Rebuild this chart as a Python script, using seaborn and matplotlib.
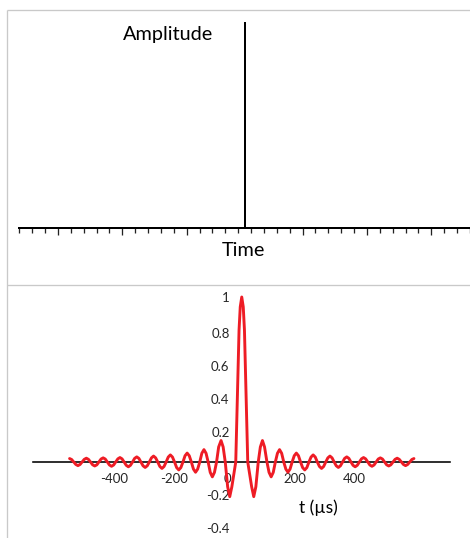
import numpy as np
import pandas as pd
import matplotlib
matplotlib.use("Agg")
import matplotlib.pyplot as plt
import matplotlib.transforms as mtransforms
from matplotlib.lines import Line2D
import seaborn as sns

# ---------------- data ----------------
# main lobe (t in microseconds)
main_t = [11, 15, 19, 24, 29, 33, 37]
main_amp = [0.50, 0.80, 0.94, 1.0, 0.94, 0.80, 0.50]
# side-lobe extremes, left to right
lobe_t = [-550, -522, -494, -466, -438, -410, -382, -354, -326, -298,
          -270, -242, -214, -186, -158, -130, -102, -74, -45, -16,
          64, 93, 122, 150, 178, 206, 234, 262, 290, 318,
          346, 374, 402, 430, 458, 486, 514, 542, 570, 598]
lobe_amp = [0.021, -0.022, 0.023, -0.024, 0.025, -0.026, 0.027, -0.029, 0.031, -0.033,
            0.036, -0.039, 0.043, -0.048, 0.054, -0.062, 0.075, -0.090, 0.130, -0.210,
            -0.210, 0.130, -0.090, 0.075, -0.062, 0.054, -0.048, 0.043, -0.039, 0.036,
            -0.033, 0.031, -0.029, 0.027, -0.026, 0.025, -0.024, 0.023, -0.022, 0.021]
# shoulders of each side lobe (half way between extreme and zero)
shoulder_t = [-543, -529, -515, -501, -487, -473, -459, -445, -431, -417,
              -403, -389, -375, -361, -347, -333, -319, -305, -291, -277,
              -263, -249, -235, -221, -207, -193, -179, -165, -151, -137,
              -123, -109, -95, -81, -67, -53, -38, -23, -9,
              57, 71, 86, 100, 115, 129, 143, 157, 171, 185,
              199, 213, 227, 241, 255, 269, 283, 297, 311, 325,
              339, 353, 367, 381, 395, 409, 423, 437, 451, 465,
              479, 493, 507, 521, 535, 549, 563, 577, 591]
shoulder_amp = [0.015, -0.015, -0.015, 0.016, 0.016, -0.017, -0.017, 0.018, 0.018, -0.018,
                -0.018, 0.019, 0.019, -0.020, -0.020, 0.022, 0.022, -0.023, -0.023, 0.025,
                0.025, -0.027, -0.027, 0.030, 0.030, -0.034, -0.034, 0.038, 0.038, -0.043,
                -0.043, 0.053, 0.053, -0.063, -0.063, 0.091, 0.091, -0.150, -0.150,
                -0.150, -0.150, 0.091, 0.091, -0.063, -0.063, 0.053, 0.053, -0.043, -0.043,
                0.038, 0.038, -0.034, -0.034, 0.030, 0.030, -0.027, -0.027, 0.025, 0.025,
                -0.023, -0.023, 0.022, 0.022, -0.020, -0.020, 0.019, 0.019, -0.018, -0.018,
                0.018, 0.018, -0.017, -0.017, 0.016, 0.016, -0.015, -0.015, 0.015]
# zero crossings
zero_t = [-536, -508, -480, -452, -424, -396, -368, -340, -312, -284,
          -256, -228, -200, -172, -144, -116, -88, -60, -31, 4,
          44, 79, 108, 136, 164, 192, 220, 248, 276, 304,
          332, 360, 388, 416, 444, 472, 500, 528, 556, 584]
zero_amp = [0.0] * len(zero_t)

x_tick_values = [-400, -200, 0, 200, 400]
x_tick_labels = ["-400", "-200", "0", "200", "400"]
y_tick_values = [1.0, 0.8, 0.6, 0.4, 0.2, -0.2, -0.4]
y_tick_labels = ["1", "0.8", "0.6", "0.4", "0.2", "-0.2", "-0.4"]
x_minor_ticks = [-400, -360, -320, -280, -240, -200, -160, -120, -80, -40,
                 40, 80, 120, 160, 200, 240, 280, 320, 360, 400]

top_major = [-14.5, -9.5, -4.5, 4.5, 9.5, 14.5]
top_minor = [-17.5, -16.5, -15.5, -13.5, -12.5, -11.5, -10.5, -8.5, -7.5, -6.5,
             -5.5, -3.5, -2.5, -1.5, -0.5, 0.5, 1.5, 2.5, 3.5, 5.5, 6.5, 7.5,
             8.5, 10.5, 11.5, 12.5, 13.5, 15.5, 16.5, 17.5]

df = pd.concat([
    pd.DataFrame({"t": main_t, "amp": main_amp}),
    pd.DataFrame({"t": lobe_t, "amp": lobe_amp}),
    pd.DataFrame({"t": shoulder_t, "amp": shoulder_amp}),
    pd.DataFrame({"t": zero_t, "amp": zero_amp}),
]).sort_values("t").reset_index(drop=True)

# ---------------- styling ----------------
sns.set_style("white")
plt.rcParams["font.family"] = ["Lato", "DejaVu Sans"]

W, H = 470, 538
fig = plt.figure(figsize=(W / 100, H / 100), dpi=100)
fig.patch.set_facecolor("white")

def fx(px):
    return px / W

def fy(py):
    return 1 - py / H

PT = 72 / 100  # points per pixel

# frame lines
gray = "#c9c9c9"
for xs, ys in [([7, 7], [10, 538]), ([7, 470], [10, 10]), ([7, 470], [285, 285])]:
    fig.add_artist(Line2D([fx(x) for x in xs], [fy(y) for y in ys],
                          color=gray, lw=1.3 * PT, solid_capstyle="butt"))

# ---------------- top panel ----------------
L, R, T_, B = 18.7, 470.0, 23.3, 228.3
ax1 = fig.add_axes([fx(L), fy(B), fx(R) - fx(L), fy(T_) - fy(B)])
ax1.set_facecolor("none")
ax1.set_xlim(-(245 - L) / 12.9, (R - 245) / 12.9)
ax1.set_ylim(0, 1)
for s in ["top", "right"]:
    ax1.spines[s].set_visible(False)
ax1.spines["left"].set_position(("data", 0))
for s in ["left", "bottom"]:
    ax1.spines[s].set_linewidth(2.0 * PT)
    ax1.spines[s].set_color("black")
ax1.set_yticks([])
ax1.set_xticks(top_major)
ax1.set_xticks(top_minor, minor=True)
ax1.tick_params(axis="x", which="major", direction="out", length=6.5 * PT,
                width=1.3 * PT, color="#222222", labelbottom=False, bottom=True)
ax1.tick_params(axis="x", which="minor", direction="out", length=4.5 * PT,
                width=1.3 * PT, color="#222222", labelbottom=False, bottom=True)

fig.text(fx(167.8), fy(40), "Amplitude", ha="center", va="baseline",
         fontsize=14.3, color="black")
fig.text(fx(243.3), fy(255.5), "Time", ha="center", va="baseline",
         fontsize=14.3, color="black")

# ---------------- bottom panel ----------------
x0px, xscale = 234.55, 0.30
y0px, yscale = 462.0, 165.0
axL, axR = 33.3, 450.0
ylo, yhi = -0.45, 1.05
ax2 = fig.add_axes([fx(axL), fy(y0px - ylo * yscale), fx(axR) - fx(axL),
                    fy(y0px - yhi * yscale) - fy(y0px - ylo * yscale)])
ax2.set_facecolor("none")
ax2.set_xlim((axL - x0px) / xscale, (axR - x0px) / xscale)
ax2.set_ylim(ylo, yhi)

sns.lineplot(data=df, x="t", y="amp", ax=ax2, color="#ee1c25",
             linewidth=2.9 * PT, sort=False, estimator=None)
for ln in ax2.get_lines():
    ln.set_solid_joinstyle("round")
    ln.set_solid_capstyle("round")
ax2.set_xlabel("")
ax2.set_ylabel("")

for s in ["top", "right"]:
    ax2.spines[s].set_visible(False)
ax2.spines["bottom"].set_position(("data", 0))
ax2.spines["bottom"].set_linewidth(1.6 * PT)
ax2.spines["bottom"].set_color("black")
ax2.spines["bottom"].set_zorder(1)
ax2.spines["left"].set_position(("data", 0))
ax2.spines["left"].set_visible(False)

ax2.set_xticks(x_tick_values)
ax2.set_xticklabels(x_tick_labels)
ax2.set_xticks(x_minor_ticks, minor=True)
ax2.tick_params(axis="x", which="both", direction="out", length=4 * PT,
                width=1.0 * PT, color="#222222", pad=7 * PT, labelsize=9.5)
ax2.set_yticks(y_tick_values)
ax2.set_yticklabels(y_tick_labels)
ax2.tick_params(axis="y", which="both", length=0, pad=5 * PT, labelsize=9.5)

# nudge the "0" label left of the vertical axis, as in the source
for lab in ax2.get_xticklabels():
    if lab.get_text() == "0":
        lab.set_transform(lab.get_transform() +
                          mtransforms.ScaledTranslation(-7 / 100, 0, fig.dpi_scale_trans))
# positive y labels sit a little lower in the source
for lab in ax2.get_yticklabels():
    if lab.get_text() in ("0.8", "0.6", "0.4", "0.2"):
        lab.set_transform(lab.get_transform() +
                          mtransforms.ScaledTranslation(0, -3 / 100, fig.dpi_scale_trans))

fig.text(fx(318.7), fy(513), "t (µs)", ha="center", va="baseline",
         fontsize=12.5, color="black")

fig.savefig("out.png", dpi=100, facecolor="white")
